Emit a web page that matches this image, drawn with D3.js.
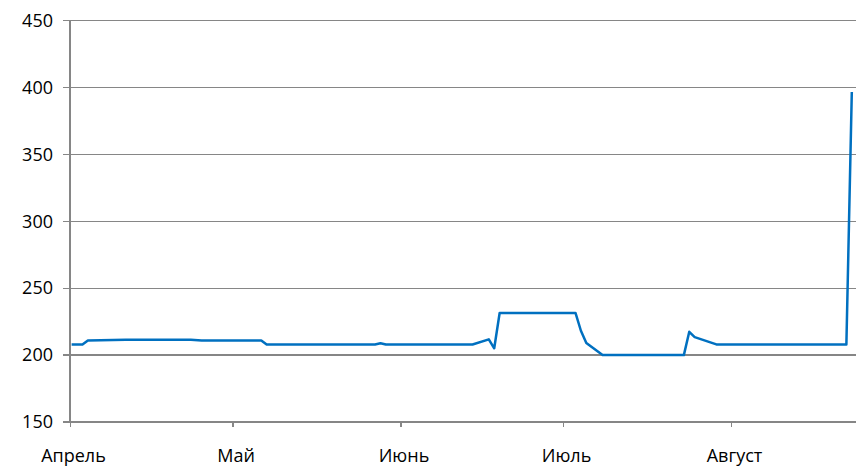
<!DOCTYPE html>
<html>
<head>
<meta charset="utf-8">
<script src="https://cdn.jsdelivr.net/npm/d3@7/dist/d3.min.js"></script>
<style>
  html, body { margin: 0; padding: 0; background: #ffffff; }
  svg { display: block; }
  text { font-family: "Open Sans", "Noto Sans", sans-serif; fill: #000; }
</style>
</head>
<body>
<svg id="chart" width="856" height="467"></svg>
<script>
// ---- data ----
const dates = [
  "2013-04-01","2013-04-03","2013-04-04","2013-04-11","2013-04-23","2013-04-25",
  "2013-05-06","2013-05-07","2013-05-27","2013-05-28","2013-05-29",
  "2013-06-14","2013-06-17","2013-06-18","2013-06-19",
  "2013-07-03","2013-07-04","2013-07-05","2013-07-08",
  "2013-07-23","2013-07-24","2013-07-25","2013-07-29",
  "2013-08-22","2013-08-23"
];
const values = [
  207.5, 207.5, 210.6, 211.0, 211.0, 210.6,
  210.6, 207.5, 207.5, 208.5, 207.5,
  207.5, 211.4, 204.7, 231.1,
  231.1, 217.8, 208.6, 199.6,
  199.6, 217.0, 213.0, 207.6,
  207.6, 396.2
];
const monthLabels = ["Апрель", "Май", "Июнь", "Июль", "Август"];
const yTicks = [150, 200, 250, 300, 350, 400, 450];

// ---- layout ----
const svg = d3.select("#chart");
const mLeft = 70, mRight = 855.6, mTop = 20, mBottom = 421.5;
const parse = d3.utcParse("%Y-%m-%d");
const data = dates.map((d, i) => ({ date: parse(d), value: values[i] }));

const x = d3.scaleUtc()
  .domain([parse("2013-04-01"), parse("2013-08-24")])
  .range([mLeft, mRight]);
const y = d3.scaleLinear().domain([150, 450]).range([mBottom, mTop]);
const dayOffset = 0.3 * (x(parse("2013-04-02")) - x(parse("2013-04-01")));

// y gridlines + labels
const yAxis = d3.axisLeft(y)
  .tickValues(yTicks)
  .tickSize(-(856 - mLeft))
  .tickPadding(17)
  .tickFormat(d3.format("d"));
const gy = svg.append("g").attr("transform", `translate(${mLeft},0)`).call(yAxis);
gy.select(".domain").remove();
gy.selectAll(".tick line")
  .attr("x1", -7)
  .attr("stroke", "#868686").attr("stroke-width", 1.3)
  .attr("shape-rendering", "crispEdges");
gy.selectAll(".tick text")
  .attr("font-size", 18).attr("dy", "0.35em").attr("fill", "#000");

// vertical axis line
svg.append("line")
  .attr("x1", mLeft).attr("x2", mLeft)
  .attr("y1", mTop).attr("y2", mBottom)
  .attr("stroke", "#868686").attr("stroke-width", 1.3)
  .attr("shape-rendering", "crispEdges");

// x axis with month ticks
const monthTicks = d3.utcMonth.range(parse("2013-04-01"), parse("2013-08-24"));
const xAxis = d3.axisBottom(x)
  .tickValues(monthTicks)
  .tickSize(5)
  .tickPadding(0)
  .tickFormat((d, i) => monthLabels[i]);
const gx = svg.append("g").attr("transform", `translate(0,${mBottom})`).call(xAxis);
gx.select(".domain").remove();
gx.selectAll(".tick line")
  .attr("stroke", "#868686").attr("stroke-width", 1.3)
  .attr("shape-rendering", "crispEdges");
gx.selectAll(".tick text")
  .attr("font-size", 18).attr("dy", 0).attr("y", 40).attr("dx", 3).attr("fill", "#000");

// data line
const line = d3.line()
  .x(d => x(d.date) + dayOffset)
  .y(d => y(d.value));
svg.append("path")
  .datum(data)
  .attr("fill", "none")
  .attr("stroke", "#0070c0")
  .attr("stroke-width", 2.5)
  .attr("stroke-linejoin", "round")
  .attr("d", line);
</script>
</body>
</html>
